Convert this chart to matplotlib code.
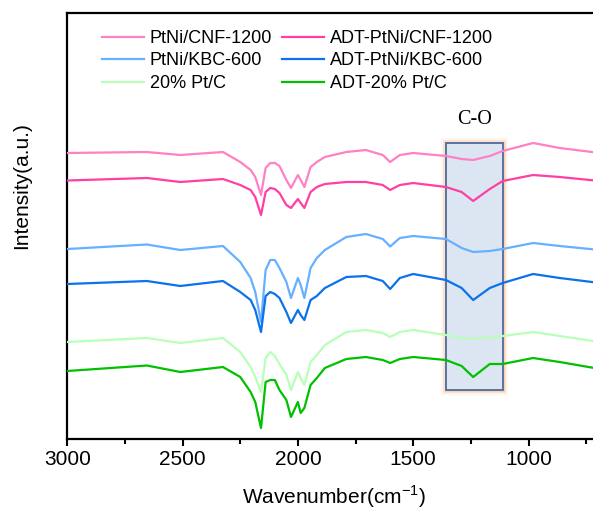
import matplotlib
matplotlib.use("Agg")
import matplotlib.pyplot as plt
from matplotlib.patches import Rectangle
from matplotlib.ticker import MultipleLocator

# ---------------- data ----------------
wavenumber = [3000, 2655, 2510, 2325, 2250, 2205, 2185, 2160, 2140, 2120, 2100, 2080,
              2050, 2030, 2000, 1988, 1972, 1945, 1918, 1883, 1790, 1705, 1632, 1600,
              1558, 1500, 1358, 1290, 1240, 1168, 1112, 980, 865, 690]

ptni_cnf = [286, 287, 284, 287, 277, 269, 262, 244, 271, 276, 276, 273,
            259, 251, 264, 259, 252, 272, 277, 282, 287, 289, 284, 277,
            284, 286, 283, 280, 279, 283, 288, 296, 291, 286]
adt_ptni_cnf = [258.5, 261, 257, 260, 254, 249, 242, 224, 247, 251, 250, 246,
                234, 231, 240, 236, 231, 247, 252, 255, 257, 257, 254, 249,
                254, 256, 252, 247, 238, 250, 258, 264, 262, 258]
ptni_kbc = [190, 194.5, 189, 193, 177, 161, 147, 117, 169, 179, 179, 171,
            157, 141, 161, 154, 141, 171, 181, 189, 202, 205, 200, 192.5,
            201, 203, 200, 191, 187, 188, 190, 196, 193, 189]
adt_ptni_kbc = [155, 158, 153, 158, 147, 139, 129, 107, 143, 147, 145, 141,
                127, 116, 129, 124, 119, 139, 143, 151, 162, 163, 158, 150,
                161, 165, 159, 151, 139, 151, 156, 165, 161, 156]
ptc = [97, 101, 96, 101, 87, 72, 62, 47, 81, 87, 83, 75,
       64, 49, 67, 61, 54, 77, 84, 94, 107, 109, 106, 102,
       107, 109, 104, 101, 100, 102, 103, 107, 103, 97]
adt_ptc = [68, 73.5, 67, 72, 62, 47, 37, 11, 57, 59, 59, 49,
           39, 22, 37, 26, 31, 54, 61, 71, 80, 82, 79, 76,
           80, 82, 79, 73, 62, 75, 75, 81, 77, 70]

labels = ["PtNi/CNF-1200", "ADT-PtNi/CNF-1200", "PtNi/KBC-600",
          "ADT-PtNi/KBC-600", "20% Pt/C", "ADT-20% Pt/C"]
colors = ["#ff80c4", "#ff3fa3", "#66b0ff", "#0a72ec", "#b8ffb8", "#00c000"]
series = [ptni_cnf, adt_ptni_cnf, ptni_kbc, adt_ptni_kbc, ptc, adt_ptc]

box_x = [1358, 1111]
box_y = [49, 296]
box_label = "C-O"

# ---------------- figure ----------------
W, H = 593, 515
fig = plt.figure(figsize=(W / 100, H / 100), dpi=100)
plt.rcParams['font.family'] = ['Liberation Sans', 'DejaVu Sans']

left_px, right_px, top_px, bottom_px = 67.3, 600, 12.7, 439
ax = fig.add_axes([left_px / W, 1 - bottom_px / H,
                   (right_px - left_px) / W, (bottom_px - top_px) / H])

# box with orange glow
bx0, bx1 = min(box_x), max(box_x)
for lw, a in [(7, 0.10), (4.5, 0.18), (2.5, 0.3)]:
    ax.add_patch(Rectangle((bx0, box_y[0]), bx1 - bx0, box_y[1] - box_y[0],
                           fill=False, edgecolor="#f7a55c", linewidth=lw,
                           alpha=a, zorder=1))
ax.add_patch(Rectangle((bx0, box_y[0]), bx1 - bx0, box_y[1] - box_y[0],
                       facecolor="#dce6f2", edgecolor="#4a6aa0", linewidth=1.3,
                       zorder=2))
ax.text((bx0 + bx1) / 2, 319, box_label, ha="center", va="center",
        fontsize=14.5, family=["Liberation Serif", "DejaVu Serif"], zorder=5)

lines = []
for y, c, lab in zip(series, colors, labels):
    ln, = ax.plot(wavenumber, y, color=c, lw=1.6, label=lab, zorder=3)
    lines.append(ln)

ax.set_xlim(3000, 690)
ax.set_ylim(0, 426.3)
ax.xaxis.set_major_locator(MultipleLocator(500))
ax.xaxis.set_minor_locator(MultipleLocator(250))
ax.set_yticks([])
ax.tick_params(axis="x", which="major", direction="out", length=5, width=1.5,
               labelsize=15, pad=3)
ax.tick_params(axis="x", which="minor", direction="out", length=3.5, width=1.5)
for s in ax.spines.values():
    s.set_linewidth(1.6)

ax.set_xlabel(r"Wavenumber(cm$^{\mathregular{-1}}$)", fontsize=15, labelpad=10)
fig.text(22 / W, 1 - 186 / H, "Intensity(a.u.)", rotation=90, ha="center",
         va="center", fontsize=15)

order = [0, 2, 4, 1, 3, 5]
ax.legend([lines[i] for i in order], [labels[i] for i in order], ncol=2,
          frameon=False, loc="upper left",
          bbox_to_anchor=(102 / W, 1 - 30 / H), bbox_transform=fig.transFigure,
          borderpad=0, borderaxespad=0, fontsize=13, handlelength=2.3,
          handletextpad=0.35, columnspacing=0.55, labelspacing=0.3)

fig.savefig("out.png", dpi=100)
